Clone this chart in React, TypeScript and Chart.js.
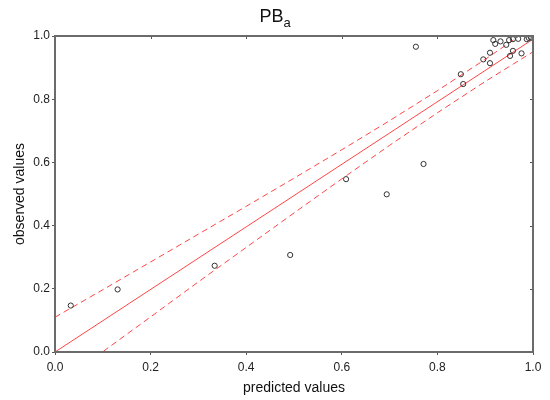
import React, { useEffect, useRef } from "react";
import { Chart, registerables } from "chart.js";

Chart.register(...registerables);

// observed vs predicted points
const predicted = [0.033, 0.131, 0.334, 0.492, 0.609, 0.694, 0.771, 0.755, 0.849, 0.854, 0.896, 0.910, 0.910, 0.917, 0.921, 0.932, 0.944, 0.950, 0.958, 0.958, 0.952, 0.969, 0.976, 0.987, 0.991, 0.996];
const observed = [0.147, 0.198, 0.273, 0.307, 0.547, 0.499, 0.595, 0.966, 0.879, 0.848, 0.926, 0.947, 0.914, 0.987, 0.975, 0.983, 0.972, 0.987, 0.990, 0.953, 0.937, 0.991, 0.945, 0.990, 0.994, 0.995];

// regression line
const fitX = [0, 1];
const fitY = [0, 0.99];

// confidence bands
const bandX = [0, 0.1, 0.2, 0.3, 0.4, 0.5, 0.6, 0.7, 0.8, 0.9, 1.0];
const upperY = [0.110, 0.197, 0.285, 0.373, 0.461, 0.550, 0.640, 0.732, 0.827, 0.926, 1.030];
const lowerY = [-0.110, 0.001, 0.111, 0.222, 0.331, 0.440, 0.548, 0.654, 0.757, 0.856, 0.950];

const tickValues = [0, 0.2, 0.4, 0.6, 0.8, 1.0];

const TITLE_MAIN = "PB";
const TITLE_SUB = "a";
const X_TITLE = "predicted values";
const Y_TITLE = "observed values";

const FONT = "'Liberation Sans', Arial, sans-serif";
const RED = "rgb(255,70,70)";

const toPts = (xs: number[], ys: number[]) => xs.map((x, i) => ({ x, y: ys[i] }));

const framePlugin = {
  id: "frameAndTitle",
  afterDatasetsDraw(chart: any) {
    const { ctx, chartArea } = chart;
    const { left, right, top, bottom } = chartArea;
    ctx.save();
    // inner ticks on top and right
    ctx.strokeStyle = "#555";
    ctx.lineWidth = 1;
    const xs = chart.scales.x;
    const ys = chart.scales.y;
    tickValues.forEach((v) => {
      const px = Math.round(xs.getPixelForValue(v)) + 0.5;
      ctx.beginPath();
      ctx.moveTo(px, top);
      ctx.lineTo(px, top + 3);
      ctx.stroke();
      const py = Math.round(ys.getPixelForValue(v)) + 0.5;
      ctx.beginPath();
      ctx.moveTo(right, py);
      ctx.lineTo(right - 3, py);
      ctx.stroke();
    });
    // frame
    ctx.strokeStyle = "#6b6b6b";
    ctx.lineWidth = 2;
    ctx.strokeRect(left, top, right - left, bottom - top);
    // title
    ctx.fillStyle = "#111";
    ctx.textBaseline = "alphabetic";
    ctx.font = `18px ${FONT}`;
    const w1 = ctx.measureText(TITLE_MAIN).width;
    ctx.font = `13px ${FONT}`;
    const w2 = ctx.measureText(TITLE_SUB).width;
    const startX = chart.width / 2 - (w1 + w2) / 2;
    ctx.font = `18px ${FONT}`;
    ctx.textAlign = "left";
    ctx.fillText(TITLE_MAIN, startX, 22);
    ctx.font = `13px ${FONT}`;
    ctx.fillText(TITLE_SUB, startX + w1, 26.5);
    ctx.restore();
  },
};

export default function App() {
  const ref = useRef<HTMLCanvasElement | null>(null);

  useEffect(() => {
    document.body.style.margin = "0";
    if (!ref.current) return;
    const tickCb = (v: any) => Number(v).toFixed(1);
    const chart = new Chart(ref.current, {
      type: "scatter",
      data: {
        datasets: [
          {
            label: "observed",
            data: toPts(predicted, observed),
            showLine: false,
            pointRadius: 2.6,
            pointBorderWidth: 1,
            pointBorderColor: "#333",
            pointBackgroundColor: "rgba(0,0,0,0)",
            order: 0,
          },
          {
            label: "fit",
            data: toPts(fitX, fitY),
            showLine: true,
            pointRadius: 0,
            borderColor: RED,
            borderWidth: 1,
            order: 1,
          },
          {
            label: "upper",
            data: toPts(bandX, upperY),
            showLine: true,
            pointRadius: 0,
            borderColor: RED,
            borderWidth: 1,
            borderDash: [6, 4],
            order: 1,
          },
          {
            label: "lower",
            data: toPts(bandX, lowerY),
            showLine: true,
            pointRadius: 0,
            borderColor: RED,
            borderWidth: 1,
            borderDash: [6, 4],
            order: 1,
          },
        ],
      },
      options: {
        animation: false,
        responsive: false,
        layout: { padding: { top: 36, right: 17, left: 0, bottom: 0 } },
        plugins: {
          legend: { display: false },
          tooltip: { enabled: false },
          title: { display: false },
        },
        scales: {
          x: {
            type: "linear",
            min: 0,
            max: 1,
            afterBuildTicks: (s: any) => {
              s.ticks = tickValues.map((v) => ({ value: v }));
            },
            afterFit: (s: any) => {
              s.height = 48;
            },
            grid: { display: true, drawOnChartArea: false, tickLength: 3, color: "#555" },
            border: { display: false },
            ticks: { callback: tickCb, color: "#222", font: { family: FONT, size: 12 }, padding: 5, maxRotation: 0 },
            title: { display: true, text: X_TITLE, color: "#111", font: { family: FONT, size: 14 }, padding: { top: 0, bottom: 3 } },
          },
          y: {
            type: "linear",
            min: 0,
            max: 1,
            afterBuildTicks: (s: any) => {
              s.ticks = tickValues.map((v) => ({ value: v }));
            },
            afterFit: (s: any) => {
              s.width = 55;
            },
            grid: { display: true, drawOnChartArea: false, tickLength: 3, color: "#555" },
            border: { display: false },
            ticks: { callback: tickCb, color: "#222", font: { family: FONT, size: 12 }, padding: 2 },
            title: { display: true, text: Y_TITLE, color: "#111", font: { family: FONT, size: 14 }, padding: { top: 12, bottom: 0 } },
          },
        },
      },
      plugins: [framePlugin],
    });
    return () => chart.destroy();
  }, []);

  return <canvas ref={ref} width={550} height={400} style={{ display: "block" }} />;
}
